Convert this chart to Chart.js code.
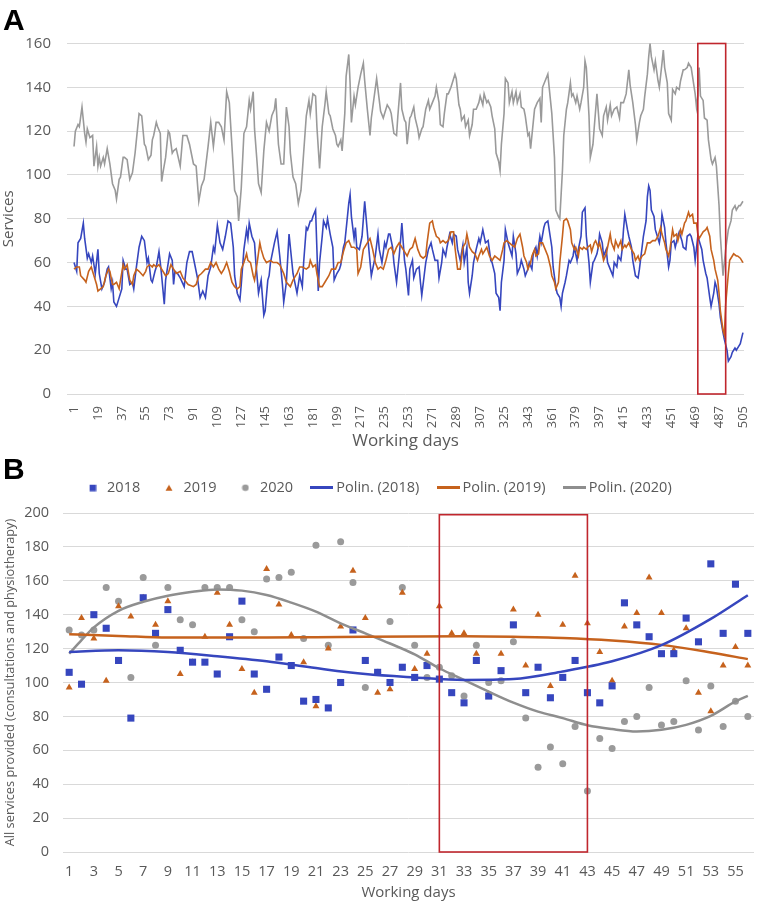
<!DOCTYPE html>
<html>
<head>
<meta charset="utf-8">
<script src="https://cdn.jsdelivr.net/npm/chart.js@4.4.1/dist/chart.umd.min.js"></script>
<style>
  body { margin: 0; background: #fff; width: 759px; height: 903px; position: relative; overflow: hidden; }
  .panel { position: absolute; left: 0; width: 759px; }
  .tag { position: absolute; left: 3px; font: bold 30px "Liberation Sans", Arial, sans-serif; line-height: 30px; color: #000; }
</style>
</head>
<body>
<div class="panel" style="top:0;height:452px"><canvas id="chartA"></canvas></div>
<div class="panel" style="top:452px;height:451px"><canvas id="chartB"></canvas></div>
<div class="tag" style="top:5px">A</div>
<div class="tag" style="top:454px">B</div>
<script>
// ---------- Panel A: services per working day (day, services) ----------
const xTicksA = [1, 19, 37, 55, 73, 91, 109, 127, 145, 163, 181, 199, 217, 235, 253, 271, 289, 307, 325, 343, 361, 379, 397, 415, 433, 451, 469, 487, 505];
const boxDaysA = [471, 492];

const a2018 = [[1,60],[3,56],[4,69],[6,71],[8,78],[9,71],[11,62],[12,64],[14,60],[15,63],[17,55],[19,66],[20,55],[22,48],[24,51],[26,57],[27,58],[29,48],[30,51],[31,42],[33,40],[35,44],[37,48],[38,61],[40,57],[41,57],[43,50],[45,51],[46,48],[48,58],[50,67],[52,72],[54,70],[56,60],[57,62],[59,52],[60,51],[62,56],[63,58],[65,65],[66,60],[67,54],[69,41],[70,52],[72,60],[73,64],[75,61],[76,50],[77,56],[79,55],
[81,53],[84,49],[86,60],[88,65],[90,65],[92,59],[94,53],[96,44],[98,47],[100,44],[102,54],[104,58],[106,67],[107,65],[109,77],[111,69],[113,66],[115,72],[117,79],[119,78],[121,67],[122,54],[124,46],[126,43],[127,50],[129,66],[131,75],[132,71],[133,78],[135,72],[137,69],[138,60],[140,46],[142,52],[144,36],[145,38],[147,52],[148,54],[149,60],[152,69],[154,74],[156,63],[158,50],[159,42],[161,51],[163,73],[164,67],[166,55],[168,49],[169,46],[171,54],[173,49],[174,60],[176,76],[177,75],[179,79],[180,79],[181,81],[183,84],[184,66],[185,47],
[186,60],[188,72],[189,79],[191,76],[192,80],[194,73],[196,67],[197,52],[199,55],[201,57],[202,59],[204,67],[205,69],[207,81],[208,87],[209,91],[210,81],[212,71],[213,76],[214,67],[216,66],[218,72],[220,88],[221,81],[223,67],[225,54],[227,60],[228,63],[230,73],[231,66],[233,60],[235,69],[236,67],[238,73],[239,73],[241,67],[242,60],[244,51],[246,63],[247,70],[248,78],[250,61],[251,57],[253,45],[254,57],[256,61],[257,53],[259,57],[261,58],[262,51],[263,45],[265,55],[266,60],[268,66],[270,69],[271,66],[273,61],[275,61],[276,53],[278,60],[279,66],[281,63],[282,67],[284,73],[286,69],[287,73],[289,72],[290,66],
[292,61],[294,68],[295,60],[297,67],[298,51],[299,46],[301,54],[302,60],[304,66],[306,71],[307,69],[309,75],[311,69],[313,70],[315,61],[316,60],[318,55],[319,46],[321,44],[322,38],[323,51],[325,61],[326,75],[328,69],[329,67],[331,63],[332,72],[334,64],[335,55],[337,58],[338,61],[340,57],[341,54],[343,57],[344,60],[346,57],[347,64],[349,67],[350,63],[352,72],[353,69],[355,76],[356,78],[358,79],[359,75],[361,67],[362,58],[364,49],[365,46],[367,44],[368,40],[369,46],[371,51],[372,54],[374,61],[375,60],[377,63],[378,67],[380,61],[381,66],[383,72],[384,83],[386,85],[387,72],[389,60],[390,51],[392,60],[393,61],[395,64],[396,67],
[397,73],[399,69],[400,63],[402,66],[403,60],[405,57],[407,54],[408,60],[410,58],[411,63],[413,61],[414,66],[415,75],[416,82],[418,75],[419,72],[421,67],[422,61],[424,54],[426,53],[427,57],[429,67],[430,72],[432,79],[433,90],[434,95],[435,93],[436,84],[438,81],[439,75],[441,71],[442,69],[443,73],[444,82],[446,76],[447,69],[449,58],[450,61],[451,69],[453,70],[454,67],[456,72],[457,74],[459,70],[460,67],[462,66],[463,72],[465,73],[466,72],[468,67],[469,61],[471,72],[472,70],[474,66],[475,61],[477,55],[478,53],[480,44],[481,40],[483,46],[484,51],[485,49],[487,41],[488,35],[490,28],[491,25],[493,20],[494,15],[496,17],[497,19],[499,21],[500,20],[502,22],[503,23],[505,28]];

const a2019 = [[1,57],[3,58],[5,58],[6,54],[9,52],[10,51],[12,56],[14,58],[16,54],[18,50],[19,47],[21,48],[23,49],[25,54],[27,57],[28,56],[30,50],[31,50],[33,51],[35,48],[36,52],[38,59],[39,57],[41,59],[43,52],[45,50],[46,54],[48,57],[50,56],[53,54],[55,56],[56,58],[58,59],[60,58],[61,59],[63,58],[65,59],[67,57],[69,55],[70,54],[72,55],[74,59],[76,57],[78,55],
[81,56],[83,53],[87,50],[91,49],[93,50],[95,54],[97,55],[100,57],[102,57],[104,60],[106,58],[108,60],[110,57],[112,55],[114,57],[116,60],[118,56],[120,51],[122,49],[124,48],[126,49],[127,57],[129,60],[131,64],[132,61],[134,60],[136,54],[137,52],[139,60],[141,69],[142,66],[144,62],[146,60],[149,61],[151,60],[154,60],[156,59],[159,55],[161,51],[164,49],[166,52],[168,54],[169,55],[171,58],[173,58],[176,57],[178,58],[179,61],[181,58],[183,59],[184,55],[186,49],
[188,49],[190,51],[193,54],[195,57],[198,57],[200,60],[202,60],[204,65],[206,69],[208,70],[210,67],[212,67],[214,66],[215,55],[217,58],[219,66],[220,67],[222,69],[224,71],[226,66],[228,60],[230,57],[232,58],[234,57],[236,61],[238,66],[240,67],[242,64],[244,67],[246,69],[248,67],[250,65],[252,63],[254,66],[256,67],[258,71],[260,66],[262,63],[264,62],[266,63],[267,69],[269,78],[271,79],[272,76],[274,72],[276,71],[277,69],[279,70],[281,69],[283,70],[285,74],[287,74],[288,67],[290,57],
[292,57],[294,67],[296,69],[297,73],[299,67],[301,65],[303,64],[305,61],[306,63],[308,66],[309,64],[312,67],[314,63],[316,61],[318,63],[320,62],[322,61],[324,66],[325,69],[327,70],[329,69],[331,68],[333,67],[335,71],[337,73],[339,67],[340,63],[342,60],[343,57],[345,60],[346,63],[348,66],[349,63],[351,64],[352,69],[354,69],[356,66],[358,63],[360,58],[361,54],[363,51],[364,48],[366,51],[367,60],[369,72],[370,79],[372,80],[373,79],[375,75],[376,69],[378,66],[379,67],[381,63],[382,67],[384,66],[385,67],[387,66],[388,67],[390,68],[391,65],[393,69],[394,70],[396,67],
[397,69],[399,64],[400,61],[402,64],[403,67],[405,73],[406,69],[408,66],[409,70],[411,67],[413,70],[414,66],[416,68],[417,67],[419,69],[421,66],[423,64],[424,61],[426,63],[427,61],[429,63],[431,64],[433,69],[435,69],[437,70],[439,70],[441,72],[443,76],[444,73],[446,69],[447,66],[449,63],[450,66],[452,75],[453,72],[455,73],[456,70],[458,75],[459,73],[461,78],[462,79],[464,83],[465,81],[467,82],[468,78],[470,78],[471,73],[472,71],[474,73],[475,74],[477,75],[478,76],[480,72],[481,66],[483,61],[484,57],[486,52],[487,46],[488,38],[490,29],[491,27],[492,41],[494,55],[495,61],[497,63],[498,64],[500,63],[501,63],[503,62],[504,61],[505,60]];

const a2020 = [[1,113],[2,120],[4,123],[5,122],[7,131],[9,119],[10,115],[11,121],[13,117],[15,118],[16,104],[18,113],[19,104],[20,108],[21,104],[23,108],[24,105],[26,112],[28,105],[30,96],[32,93],[33,89],[35,98],[36,99],[38,108],[39,108],[41,107],[43,98],[45,101],[47,110],[50,128],[52,127],[54,114],[55,113],[57,107],[59,109],[60,116],[61,118],[63,124],[64,122],[66,119],[67,97],[68,101],[70,108],[71,114],[72,120],[73,119],[75,110],[76,111],[78,112],
[81,104],[83,118],[86,118],[88,114],[91,105],[93,104],[95,88],[97,95],[99,98],[101,108],[102,113],[104,124],[106,113],[108,124],[110,124],[112,122],[114,116],[116,138],[118,133],[120,113],[122,93],[124,90],[125,79],[127,94],[129,119],[131,122],[133,134],[134,130],[136,138],[137,121],[139,105],[140,96],[142,92],[144,111],[146,124],[148,120],[150,127],[152,130],[153,135],[155,114],[157,105],[159,105],[161,131],[163,122],[164,110],[166,99],[168,96],[170,87],[172,93],[174,110],[176,127],[178,134],[179,128],[181,137],[183,136],[184,122],
[186,103],[188,122],[190,132],[191,138],[193,128],[194,127],[196,121],[198,118],[199,114],[200,113],[202,116],[203,111],[205,128],[206,145],[208,155],[209,142],[210,124],[212,136],[213,132],[215,140],[217,146],[219,151],[220,143],[222,130],[224,118],[225,126],[227,135],[229,144],[231,134],[232,129],[234,126],[235,128],[237,132],[239,130],[240,128],[242,119],[244,118],[245,127],[247,142],[248,130],[250,125],[251,124],[252,114],[254,126],[255,127],[257,131],[258,126],[260,121],[261,117],[263,121],[264,122],[266,130],[268,134],[269,130],[271,133],[273,136],[274,140],[276,133],[277,123],[279,122],[280,128],[282,137],[283,137],[285,140],[286,142],[288,146],[289,144],[291,132],
[292,130],[293,125],[295,127],[296,122],[298,125],[299,118],[301,123],[302,130],[304,130],[306,133],[307,136],[309,132],[310,137],[312,133],[313,134],[315,131],[316,127],[318,121],[319,110],[321,106],[322,102],[323,114],[325,128],[326,144],[328,142],[329,133],[331,138],[332,133],[334,138],[335,133],[337,137],[338,131],[340,130],[341,127],[343,118],[344,119],[345,112],[347,124],[348,130],[350,133],[352,135],[353,124],[354,140],[356,143],[358,146],[359,140],[361,128],[363,108],[364,84],[366,81],[367,80],[369,102],[370,118],[372,130],[373,133],[375,142],[376,136],[377,137],[379,133],[380,136],[382,130],[383,133],[385,140],[386,152],[387,149],[389,127],[390,108],[392,114],[393,122],[395,137],[396,129],
[397,121],[399,118],[400,127],[402,131],[403,125],[405,132],[406,127],[408,130],[410,131],[412,126],[413,133],[415,133],[417,137],[419,148],[420,141],[422,133],[424,123],[425,116],[427,124],[428,127],[430,130],[431,136],[433,146],[434,154],[435,160],[436,154],[438,148],[439,152],[441,143],[442,140],[444,151],[445,157],[446,149],[448,142],[449,128],[451,125],[452,139],[454,137],[455,140],[457,139],[458,143],[460,148],[461,148],[463,149],[464,151],[466,149],[467,145],[469,137],[470,131],[471,136],[472,149],[473,136],[475,134],[476,126],[478,125],[479,116],[481,107],[482,105],[484,108],[485,104],[487,86],[488,72],[490,54],[491,60],[492,66],[494,75],[496,79],[497,84],[499,86],[500,84],[502,86],[503,86],[505,88]];

// ---------- Panel B: first 56 working days ----------
const dayLabelsB = Array.from({ length: 56 }, (_, i) => String(i + 1));
const boxDaysB = ['31', '43'];

const b2018 = [106,99,140,132,113,79,150,129,143,119,112,112,105,127,148,105,96,115,110,89,90,85,100,131,113,106,100,109,103,110,102,94,88,113,92,107,134,94,109,91,103,113,94,88,98,147,134,127,117,117,138,124,170,129,158,129];
const b2019 = [97,138,126,101,145,139,150,134,148,105,112,127,153,134,108,94,167,146,128,112,86,120,133,166,138,94,96,153,108,117,145,129,129,117,93,117,143,110,140,98,134,163,135,118,101,133,141,162,141,119,132,94,83,110,121,110];
const b2020 = [131,128,131,156,148,103,162,122,156,137,134,156,156,156,137,130,161,162,165,126,181,122,183,159,97,106,136,156,122,103,109,104,92,122,100,101,124,79,50,62,52,74,36,67,61,77,80,97,75,77,101,72,98,74,89,80];

// polynomial trend lines
const trendDays2018 = [1,5,9,13,17,21,25,29,33,37,41,45,49,53,56];
const trend2018 = [118,119,118,115.5,112.5,108.5,105,103,101.5,102,106.5,112.5,122,137.5,151.5];
const trendDays2019 = [1,5,9,13,17,21,25,29,33,37,41,45,49,53,56];
const trend2019 = [128.4,127.5,126.5,126.5,126.5,126.7,127,127.2,127.3,127,126.3,124.8,122.2,117.7,113.8];
const trendDays2020 = [1,2,3,5,7,9,11,13,15,17,19,21,23,25,27,29,31,33,35,37,39,41,43,45,47,49,51,53,55,56];
const trend2020 = [117,125,132.5,142.3,147.6,151.2,153.5,154.9,154.2,151.6,147.1,141.8,134.9,129,123,116.6,108.4,101.5,94.6,88.1,82.8,79,74.8,72.5,71.1,72.1,75,80.3,88.8,92.1];

const BLUE = '#3646BE', ORANGE = '#C6621D', GRAY = '#9A9A9A', GRAY_LINE = '#8E8E8E';
const TXT = '#595959', GRID = '#D9D9D9', RED = '#C0262D';

Chart.defaults.font.family = "'Open Sans', sans-serif";

const redBox = {
  id: 'redBox',
  afterDatasetsDraw(chart, args, opts) {
    const { ctx, scales: { x, y } } = chart;
    const left = x.getPixelForValue(opts.x0), right = x.getPixelForValue(opts.x1);
    const top = y.getPixelForValue(opts.y1), bottom = y.getPixelForValue(opts.y0);
    ctx.save();
    ctx.strokeStyle = RED;
    ctx.lineWidth = 1.6;
    ctx.strokeRect(left, top, right - left, bottom - top);
    ctx.restore();
  }
};

const lineA = (label, pts, color, order) => ({
  label,
  data: pts.map(p => ({ x: p[0], y: p[1] })),
  borderColor: color,
  backgroundColor: color,
  borderWidth: 1.6,
  pointRadius: 0,
  tension: 0,
  order
});

new Chart(document.getElementById('chartA'), {
  type: 'line',
  data: {
    datasets: [lineA('2018', a2018, BLUE, 3), lineA('2019', a2019, ORANGE, 2), lineA('2020', a2020, GRAY, 1)]
  },
  options: {
    responsive: true,
    maintainAspectRatio: false,
    animation: false,
    layout: { padding: { top: 43.5, right: 15, left: 0, bottom: 0 } },
    plugins: {
      legend: { display: false },
      tooltip: { enabled: false },
      redBox: { x0: boxDaysA[0], x1: boxDaysA[1], y0: 0, y1: 160 }
    },
    scales: {
      x: {
        type: 'linear',
        min: -4.3,
        max: 505.8,
        afterBuildTicks: s => { s.ticks = xTicksA.map(v => ({ value: v })); },
        afterFit: s => { s.height = 58; s.paddingLeft = 0; s.paddingRight = 0; },
        grid: { display: false, drawTicks: false },
        border: { display: false },
        ticks: {
          autoSkip: false, minRotation: 90, maxRotation: 90, padding: 12,
          color: TXT, font: { size: 13 },
          callback: v => String(v)
        },
        title: { display: true, text: 'Working days', color: TXT, font: { size: 17 }, padding: { top: 0, bottom: 1 } }
      },
      y: {
        min: 0,
        max: 160,
        afterFit: s => { s.width = 67; },
        grid: { color: GRID, drawTicks: false },
        border: { display: false },
        ticks: { stepSize: 20, padding: 16, color: TXT, font: { size: 15 } },
        title: { display: true, text: 'Services', color: TXT, font: { size: 15 }, padding: { top: 0, bottom: 0 } }
      }
    }
  },
  plugins: [redBox]
});

// legend markers sized like the original ones
function mark(kind, color) {
  const c = document.createElement('canvas');
  const g = c.getContext('2d');
  if (kind === 'line') {
    c.width = 23; c.height = 3;
    g.fillStyle = color;
    g.fillRect(0, 0, 23, 3);
  } else {
    c.width = 8; c.height = 8;
    g.fillStyle = color;
    if (kind === 'rect') g.fillRect(1, 1, 6.5, 6.5);
    if (kind === 'tri') { g.beginPath(); g.moveTo(4, 1); g.lineTo(7.5, 7); g.lineTo(0.5, 7); g.closePath(); g.fill(); }
    if (kind === 'dot') { g.beginPath(); g.arc(4, 4, 3.3, 0, Math.PI * 2); g.fill(); }
  }
  return c;
}
const legendMarks = [mark('rect', BLUE), mark('tri', ORANGE), mark('dot', GRAY), mark('line', BLUE), mark('line', ORANGE), mark('line', GRAY_LINE)];

const legendGap = {
  id: 'legendGap',
  beforeLayout(chart) {
    const lg = chart.legend;
    if (lg && !lg._gapPatched) {
      const fit = lg.fit;
      lg.fit = function () { fit.apply(this, arguments); this.height += 8; };
      lg._gapPatched = true;
    }
  }
};

const pointsB = (label, vals, style, radius, color) => ({
  label, data: vals, showLine: false,
  pointStyle: style, pointRadius: radius, pointHoverRadius: radius,
  pointBorderWidth: 0, backgroundColor: color, borderColor: color, order: 1
});
const trendB = (label, days, vals, color) => ({
  label,
  data: days.map((d, i) => ({ x: String(d), y: vals[i] })),
  borderColor: color, backgroundColor: color, borderWidth: 2.5,
  pointRadius: 0, cubicInterpolationMode: 'monotone', order: 0
});

new Chart(document.getElementById('chartB'), {
  type: 'line',
  data: {
    labels: dayLabelsB,
    datasets: [
      pointsB('2018', b2018, 'rect', 5, BLUE),
      pointsB('2019', b2019, 'triangle', 4, ORANGE),
      pointsB('2020', b2020, 'circle', 3.5, GRAY),
      trendB('Polin. (2018)', trendDays2018, trend2018, BLUE),
      trendB('Polin. (2019)', trendDays2019, trend2019, ORANGE),
      trendB('Polin. (2020)', trendDays2020, trend2020, GRAY_LINE)
    ]
  },
  options: {
    responsive: true,
    maintainAspectRatio: false,
    animation: false,
    layout: { padding: { top: 7, right: 2, left: 0, bottom: 0 } },
    plugins: {
      tooltip: { enabled: false },
      legend: {
        position: 'top',
        labels: {
          usePointStyle: true,
          padding: 21.5,
          color: TXT,
          font: { size: 14.5 },
          sort: (a, b) => a.datasetIndex - b.datasetIndex,
          generateLabels(chart) {
            const items = Chart.defaults.plugins.legend.labels.generateLabels(chart);
            items.forEach(it => { it.pointStyle = legendMarks[it.datasetIndex]; });
            return items;
          }
        }
      },
      redBox: { x0: dayLabelsB.indexOf(boxDaysB[0]), x1: dayLabelsB.indexOf(boxDaysB[1]), y0: 0, y1: 199 }
    },
    scales: {
      x: {
        type: 'category',
        offset: true,
        afterFit: s => { s.height = 51; },
        grid: { display: false, drawTicks: false },
        border: { display: false },
        ticks: {
          autoSkip: false, maxRotation: 0, minRotation: 0, padding: 11,
          color: TXT, font: { size: 14.5 },
          callback(v, i) { return i % 2 === 0 ? this.getLabelForValue(v) : ''; }
        },
        title: { display: true, text: 'Working days', color: TXT, font: { size: 15 }, padding: { top: 0, bottom: 1 } }
      },
      y: {
        min: 0,
        max: 200,
        afterFit: s => { s.width = 63; },
        grid: { color: GRID, drawTicks: false },
        border: { display: false },
        ticks: { stepSize: 20, padding: 14, color: TXT, font: { size: 14.5 } },
        title: {
          display: true, text: 'All services provided (consultations and physiotherapy)',
          color: TXT, font: { size: 12.8 }, padding: { top: 2.5, bottom: 0 }
        }
      }
    }
  },
  plugins: [redBox, legendGap]
});
</script>
</body>
</html>
